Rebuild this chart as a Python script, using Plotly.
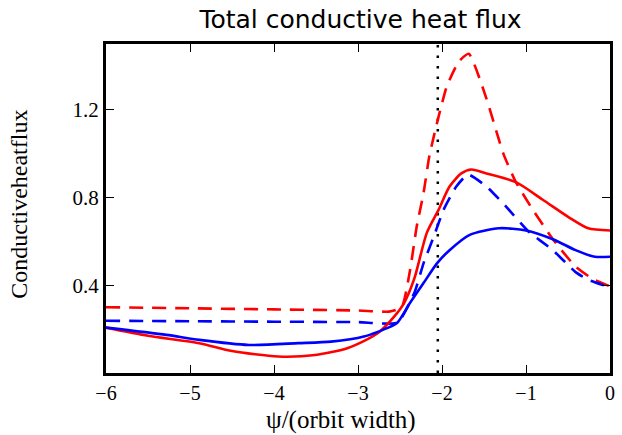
import plotly.graph_objects as go

# ---- data ----
red_dash_x = [-6, -5, -4, -3, -2.63, -2.48, -2.38, -2.30, -2.22, -2.15, -2.04, -1.94, -1.80, -1.68,
              -1.47, -1.27, -1.12, -0.92, -0.68, -0.41, -0.21, 0]
red_dash_y = [0.30, 0.295, 0.29, 0.285, 0.28, 0.30, 0.47, 0.67, 0.82, 0.99, 1.17, 1.31, 1.42, 1.455,
              1.25, 1.0, 0.87, 0.745, 0.61, 0.485, 0.43, 0.395]

blue_dash_x = [-6, -5, -4, -3, -2.53, -2.33, -2.22, -2.10, -1.98, -1.83, -1.69, -1.47, -1.24, -0.97,
               -0.68, -0.41, -0.26, 0]
blue_dash_y = [0.238, 0.236, 0.234, 0.232, 0.23, 0.365, 0.50, 0.62, 0.745, 0.85, 0.905, 0.85, 0.76, 0.645,
               0.56, 0.46, 0.425, 0.39]

red_solid_x = [-6, -5.5, -4.89, -4.5, -3.95, -3.51, -3.12, -2.77, -2.57, -2.45, -2.33, -2.18, -2.04,
               -1.91, -1.77, -1.65, -1.47, -1.12, -0.80, -0.49, -0.26, 0]
red_solid_y = [0.207, 0.17, 0.136, 0.10, 0.075, 0.082, 0.114, 0.18, 0.257, 0.32, 0.43, 0.64, 0.745,
               0.85, 0.91, 0.928, 0.91, 0.87, 0.79, 0.71, 0.66, 0.65]

blue_solid_x = [-6, -5.28, -4.89, -4.30, -3.71, -3.32, -2.93, -2.62, -2.53, -2.38, -2.22, -2.06, -1.91,
                -1.67, -1.32, -1.00, -0.68, -0.41, -0.18, 0]
blue_solid_y = [0.207, 0.174, 0.151, 0.128, 0.136, 0.143, 0.166, 0.21, 0.23, 0.32, 0.41, 0.50, 0.56,
                0.63, 0.66, 0.65, 0.61, 0.56, 0.53, 0.53]

sep_x = -2.05
x_ticks = [-6, -5, -4, -3, -2, -1, 0]
y_ticks = [0.4, 0.8, 1.2]
x_range = [-6, 0]
y_range = [0, 1.5]

title_text = "Total conductive heat flux"
x_title = "ψ/(orbit width)"
y_title = "Conductiveheatflux"

# ---- figure ----
serif = "Liberation Serif, DejaVu Serif, serif"
fig = go.Figure()
W = 2.6
dash_pat = "14px,9px"
fig.add_trace(go.Scatter(x=[sep_x, sep_x], y=y_range, mode="lines",
                         line=dict(color="black", width=2.5, dash="2.5px,8px")))
fig.add_trace(go.Scatter(x=red_dash_x, y=red_dash_y, mode="lines",
                         line=dict(color="#ff0000", width=W, dash=dash_pat, shape="spline", smoothing=0.5)))
fig.add_trace(go.Scatter(x=blue_dash_x, y=blue_dash_y, mode="lines",
                         line=dict(color="#0000ff", width=W, dash=dash_pat, shape="spline", smoothing=0.5)))
fig.add_trace(go.Scatter(x=red_solid_x, y=red_solid_y, mode="lines",
                         line=dict(color="#ff0000", width=W, shape="spline", smoothing=0.7)))
fig.add_trace(go.Scatter(x=blue_solid_x, y=blue_solid_y, mode="lines",
                         line=dict(color="#0000ff", width=W, shape="spline", smoothing=0.7)))

L, R, T, B = 106, 7, 44, 62
PW, PH = 622 - L - R, 435 - T - B
fig.update_layout(
    width=622, height=435,
    margin=dict(l=L, r=R, t=T, b=B),
    paper_bgcolor="white", plot_bgcolor="white",
    showlegend=False,
    title=dict(text=title_text, x=(L + (622 - R)) / 2 / 622, xanchor="center",
               y=1 - 19 / 435, yanchor="middle",
               font=dict(family="DejaVu Sans, sans-serif", size=25, color="black")),
    xaxis=dict(range=x_range, tickvals=x_ticks, ticks="inside", ticklen=8, tickwidth=1.2,
               tickcolor="black", showgrid=False, zeroline=False,
               showline=True, linecolor="black", linewidth=3, mirror="ticks",
               tickfont=dict(family=serif, size=20, color="black")),
    yaxis=dict(range=y_range, tickvals=y_ticks, tickformat=".1f", ticks="inside", ticklen=8, tickwidth=1.2,
               tickcolor="black", showgrid=False, zeroline=False,
               showline=True, linecolor="black", linewidth=3, mirror="ticks",
               tickfont=dict(family=serif, size=21, color="black")),
    annotations=[
        dict(text=y_title, xref="paper", yref="paper",
             x=-(L - 18) / PW, y=(435 - B - 204) / PH, xanchor="center", yanchor="middle",
             textangle=-90, showarrow=False,
             font=dict(family=serif, size=24, color="black")),
        dict(text=x_title, xref="paper", yref="paper",
             x=(343 - L) / PW, y=-(420 - (435 - B)) / PH, xanchor="center", yanchor="middle",
             showarrow=False,
             font=dict(family=serif, size=25, color="black")),
    ],
)

fig.write_html("out.html")
